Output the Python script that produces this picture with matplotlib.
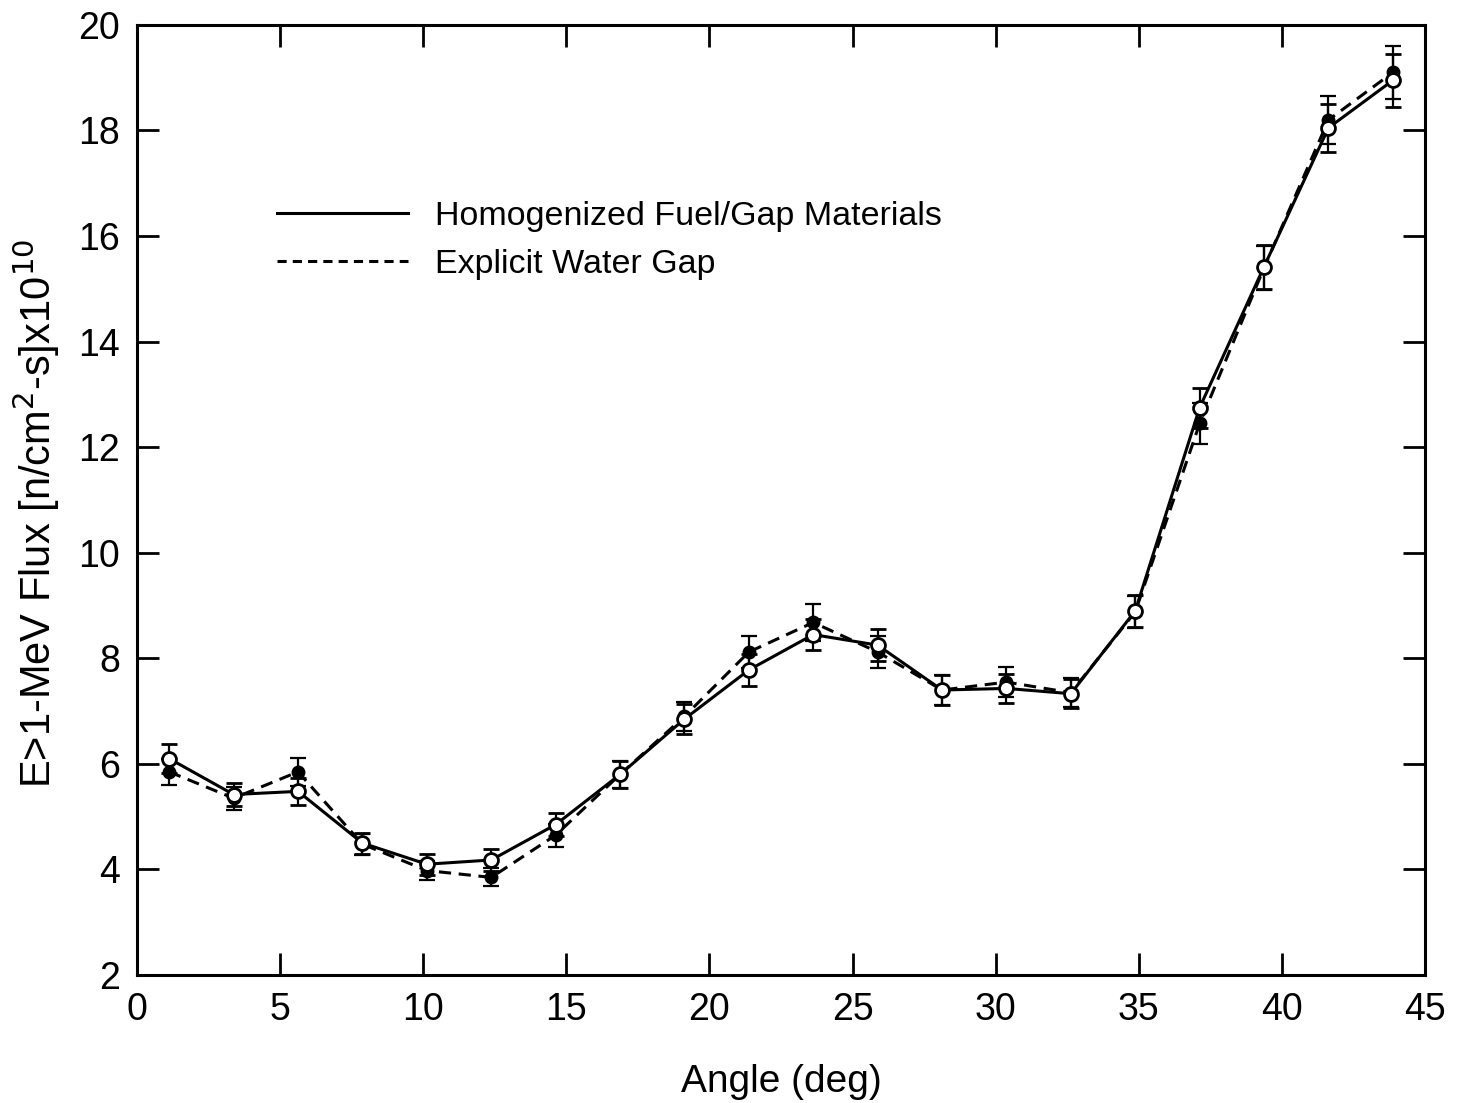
import matplotlib
matplotlib.use("Agg")
import matplotlib.pyplot as plt
from matplotlib.lines import Line2D

plt.rcParams["font.family"] = ["Liberation Sans", "DejaVu Sans"]

# angle positions (deg), shared by both series
angle = [1.125, 3.375, 5.625, 7.875, 10.125, 12.375, 14.625, 16.875, 19.125,
         21.375, 23.625, 25.875, 28.125, 30.375, 32.625, 34.875, 37.125,
         39.375, 41.625, 43.875]

# homogenized fuel/gap materials (solid, open circles)
homog = [6.1, 5.42, 5.48, 4.5, 4.1, 4.18, 4.85, 5.8, 6.85, 7.78, 8.45, 8.25,
         7.4, 7.43, 7.33, 8.9, 12.75, 15.42, 18.05, 18.95]
homog_err = [0.27, 0.22, 0.25, 0.2, 0.2, 0.2, 0.22, 0.25, 0.28, 0.3, 0.3, 0.3,
             0.28, 0.27, 0.28, 0.3, 0.38, 0.42, 0.45, 0.5]

# explicit water gap (dashed, filled circles)
explicit = [5.85, 5.35, 5.85, 4.48, 3.98, 3.85, 4.65, 5.8, 6.9, 8.12, 8.68,
            8.12, 7.4, 7.55, 7.35, 8.88, 12.45, 15.4, 18.2, 19.1]
explicit_err = [0.25, 0.22, 0.27, 0.2, 0.18, 0.17, 0.22, 0.25, 0.28, 0.3, 0.35,
                0.3, 0.28, 0.28, 0.28, 0.3, 0.38, 0.42, 0.45, 0.5]

labels = ["Homogenized Fuel/Gap Materials", "Explicit Water Gap"]

fig = plt.figure(figsize=(14.64, 11.03), dpi=100)
ax = fig.add_axes([0.0936, 0.116, 0.8798, 0.8614])

dash = (0, (4, 2.5))
ax.errorbar(angle, explicit, yerr=explicit_err, fmt="o", ls=dash, color="black",
            lw=2.2, ms=9, mfc="black", mec="black", ecolor="black",
            elinewidth=1.6, capsize=6, capthick=1.6, zorder=3)
ax.errorbar(angle, homog, yerr=homog_err, fmt="o", ls="-", color="black",
            lw=2.2, ms=10, mfc="white", mec="black", mew=2, ecolor="black",
            elinewidth=1.6, capsize=6, capthick=1.6, zorder=4)

ax.set_xlim(0, 45)
ax.set_ylim(2, 20)
ax.set_xticks([0, 5, 10, 15, 20, 25, 30, 35, 40, 45])
ax.set_yticks([2, 4, 6, 8, 10, 12, 14, 16, 18, 20])
ax.tick_params(direction="in", length=16, width=2, labelsize=27,
               top=True, right=True, pad=12)
for s in ax.spines.values():
    s.set_linewidth(2.2)

ax.set_xlabel("Angle (deg)", fontsize=28, labelpad=26)
ax.set_ylabel(r"E>1-MeV Flux [n/cm$^{2}$-s]x10$^{10}$", fontsize=30)
ax.yaxis.set_label_coords(-0.058, 0.486)

handles = [Line2D([], [], color="black", lw=2.2, ls="-"),
           Line2D([], [], color="black", lw=2.2, ls=(0, (3, 2)))]
ax.legend(handles, labels, loc="upper left", bbox_to_anchor=(0.109, 0.815),
          frameon=False, fontsize=24.5, handlelength=3.85, handletextpad=0.78,
          labelspacing=0.5, borderpad=0, borderaxespad=0)

fig.savefig("out.png", dpi=100)
